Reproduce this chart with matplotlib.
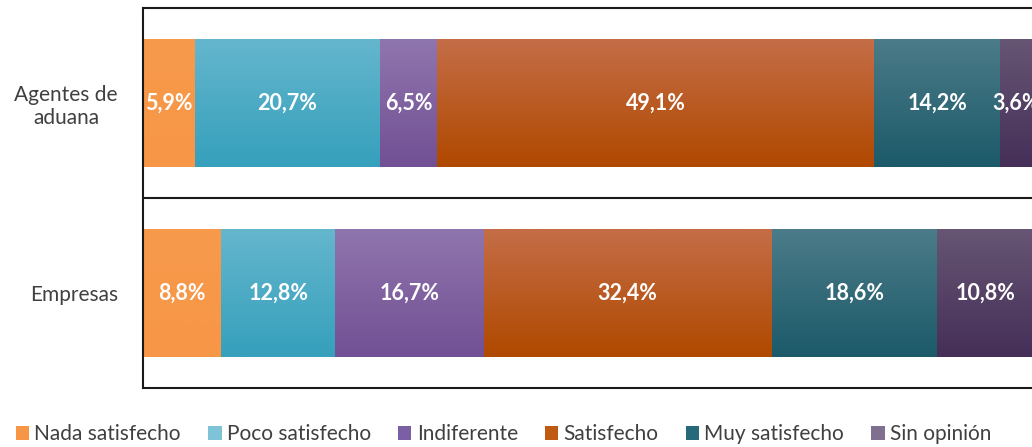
import numpy as np
import matplotlib
matplotlib.use("Agg")
from matplotlib import pyplot as plt
from matplotlib.colors import LinearSegmentedColormap
from matplotlib.patches import Patch

plt.rcParams['font.family'] = ['Lato', 'DejaVu Sans']

categorias = ["Agentes de\naduana", "Empresas"]
series = ["Nada satisfecho", "Poco satisfecho", "Indiferente",
          "Satisfecho", "Muy satisfecho", "Sin opinión"]
valores = {
    "Nada satisfecho": [5.9, 8.8],
    "Poco satisfecho": [20.7, 12.8],
    "Indiferente": [6.5, 16.7],
    "Satisfecho": [49.1, 32.4],
    "Muy satisfecho": [14.2, 18.6],
    "Sin opinión": [3.6, 10.8],
}
etiquetas = {
    "Nada satisfecho": ["5,9%", "8,8%"],
    "Poco satisfecho": ["20,7%", "12,8%"],
    "Indiferente": ["6,5%", "16,7%"],
    "Satisfecho": ["49,1%", "32,4%"],
    "Muy satisfecho": ["14,2%", "18,6%"],
    "Sin opinión": ["3,6%", "10,8%"],
}
# (arriba, abajo) del degradado, y color de leyenda
colores = {
    "Nada satisfecho": ("#F79A4C", "#F79646", "#F79646"),
    "Poco satisfecho": ("#64B6CD", "#36A0BC", "#7EC4D8"),
    "Indiferente": ("#8F75AD", "#725094", "#7B5FA5"),
    "Satisfecho": ("#C46D47", "#B04900", "#BE5A12"),
    "Muy satisfecho": ("#4B7B88", "#1C5A6A", "#25697A"),
    "Sin opinión": ("#665573", "#452F58", "#7F7090"),
}

fig = plt.figure(figsize=(10.32, 4.47), dpi=100)
ax = fig.add_axes([143 / 1032, 1 - 388 / 447, 892 / 1032, 380 / 447])

y = np.arange(len(categorias))
izq = np.zeros(len(categorias))
alto = 0.67
grad = np.linspace(0, 1, 64).reshape(-1, 1)
for s in series:
    v = np.array(valores[s])
    top, bot, _ = colores[s]
    bars = ax.barh(y, v, left=izq, height=alto, color=bot, linewidth=0)
    cmap = LinearSegmentedColormap.from_list(s, [top, bot])
    for b, lab in zip(bars, etiquetas[s]):
        x0, y0, w, h = b.get_x(), b.get_y(), b.get_width(), b.get_height()
        im = ax.imshow(grad, cmap=cmap, aspect='auto', interpolation='bilinear',
                       extent=(x0, x0 + w, y0 + h, y0), zorder=2)
        im.set_clip_path(b)
        ax.text(x0 + w / 2, y0 + h / 2, lab, ha='center', va='center',
                color='white', fontsize=15.5, fontweight='bold', zorder=3)
    izq += v

ax.set_xlim(0, 100.3)
ax.set_ylim(len(categorias) - 0.5, -0.5)
ax.set_yticks(y)
ax.set_yticklabels(categorias, fontsize=15, color='#404040')
ax.tick_params(axis='y', length=0, pad=18)
ax.set_xticks([])
for yy in np.arange(0.5, len(categorias) - 0.5):
    ax.axhline(yy, color='#1a1a1a', linewidth=1.5, zorder=1)
for sp in ['left', 'top', 'bottom']:
    ax.spines[sp].set_linewidth(1.5)
    ax.spines[sp].set_color('#1a1a1a')
ax.spines['right'].set_visible(False)
for t in ax.get_yticklabels():
    t.set_multialignment('center')

handles = [Patch(facecolor=colores[s][2], edgecolor='none') for s in series]
fig.legend(handles, series, loc='lower left', bbox_to_anchor=(-0.003, -0.035),
           ncol=6, frameon=False, fontsize=15, handlelength=0.65,
           handleheight=0.65, handletextpad=0.25, columnspacing=1.3,
           labelcolor='#404040')

fig.savefig("out.png", dpi=100)
